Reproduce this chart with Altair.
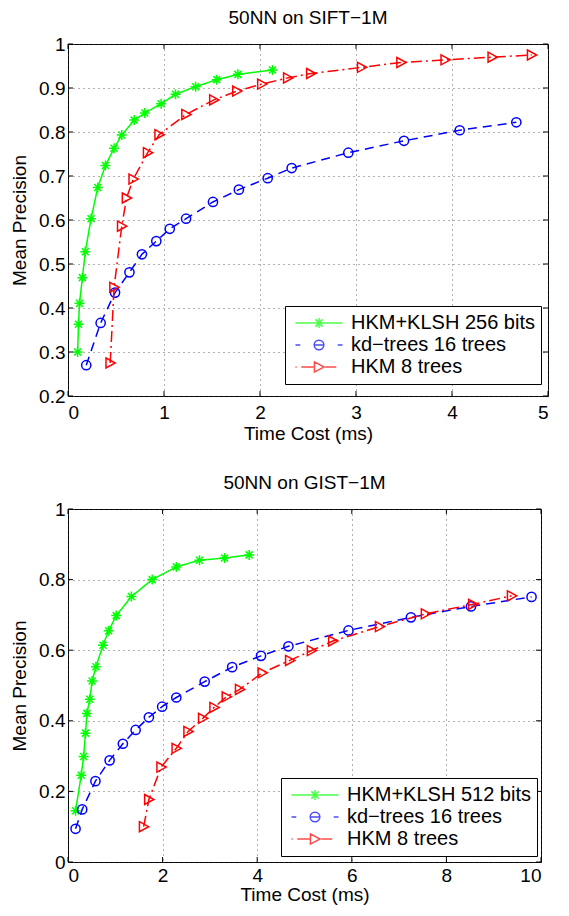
import altair as alt
import pandas as pd

FONT = "Liberation Sans"

# ---------------- data: 50NN on SIFT-1M ----------------
sift_names = ["HKM+KLSH 256 bits", "kd\u2212trees 16 trees", "HKM 8 trees"]
sift_klsh_t = [0.10, 0.11, 0.12, 0.15, 0.18, 0.24, 0.31, 0.39, 0.48, 0.56, 0.69, 0.80, 0.97, 1.12, 1.33, 1.55, 1.77, 2.13]
sift_klsh_p = [0.300, 0.363, 0.411, 0.469, 0.528, 0.603, 0.674, 0.724, 0.763, 0.793, 0.827, 0.843, 0.864, 0.886, 0.903, 0.919, 0.931, 0.941]
sift_kd_t = [0.19, 0.34, 0.49, 0.64, 0.77, 0.92, 1.06, 1.23, 1.51, 1.78, 2.08, 2.33, 2.92, 3.50, 4.08, 4.67]
sift_kd_p = [0.270, 0.366, 0.435, 0.481, 0.522, 0.552, 0.580, 0.603, 0.641, 0.669, 0.695, 0.718, 0.753, 0.780, 0.804, 0.822]
sift_hkm_t = [0.44, 0.48, 0.56, 0.61, 0.68, 0.83, 0.95, 1.23, 1.52, 1.76, 2.02, 2.29, 2.53, 3.06, 3.47, 3.93, 4.42, 4.83]
sift_hkm_p = [0.275, 0.447, 0.586, 0.650, 0.693, 0.753, 0.794, 0.840, 0.873, 0.893, 0.909, 0.923, 0.933, 0.947, 0.958, 0.964, 0.970, 0.975]
sift_xticks = [0, 1, 2, 3, 4, 5]
sift_yticks = [0.2, 0.3, 0.4, 0.5, 0.6, 0.7, 0.8, 0.9, 1.0]

# ---------------- data: 50NN on GIST-1M ----------------
gist_names = ["HKM+KLSH 512 bits", "kd\u2212trees 16 trees", "HKM 8 trees"]
gist_klsh_t = [0.16, 0.28, 0.33, 0.37, 0.40, 0.46, 0.51, 0.59, 0.74, 0.86, 1.02, 1.34, 1.78, 2.29, 2.78, 3.31, 3.83]
gist_klsh_p = [0.145, 0.246, 0.299, 0.365, 0.421, 0.461, 0.513, 0.553, 0.614, 0.655, 0.698, 0.752, 0.800, 0.836, 0.855, 0.861, 0.870]
gist_kd_t = [0.16, 0.30, 0.58, 0.88, 1.16, 1.43, 1.71, 1.99, 2.29, 2.89, 3.47, 4.08, 4.66, 5.93, 7.25, 8.52, 9.80]
gist_kd_p = [0.094, 0.149, 0.229, 0.288, 0.335, 0.374, 0.410, 0.440, 0.466, 0.511, 0.552, 0.584, 0.611, 0.656, 0.693, 0.724, 0.751]
gist_hkm_t = [1.60, 1.71, 1.97, 2.29, 2.54, 2.85, 3.09, 3.35, 3.63, 4.11, 4.69, 5.15, 5.60, 6.59, 7.56, 8.56, 9.38]
gist_hkm_p = [0.100, 0.177, 0.269, 0.322, 0.370, 0.407, 0.438, 0.468, 0.489, 0.536, 0.571, 0.599, 0.626, 0.667, 0.703, 0.730, 0.754]
gist_xticks = [0, 2, 4, 6, 8, 10]
gist_yticks = [0, 0.2, 0.4, 0.6, 0.8, 1.0]

# ---------------- styles ----------------
COLORS = ["#00ff00", "#0000ff", "#ff0000"]
DASHES = [[1, 0], [9, 6], [11, 4, 2, 4]]
MARKERS = [
    "M-1,0L1,0M0,-1L0,1M-0.7,-0.7L0.7,0.7M-0.7,0.7L0.7,-0.7",
    "circle",
    "M-0.85,-1L1,0L-0.85,1Z",
]
MARKER_SIZES = [100, 85, 100]
LEGEND_SYMBOLS = [
    "M-0.98,0L0.98,0M-0.21,0L0.21,0M0,-0.21L0,0.21M-0.15,-0.15L0.15,0.15M-0.15,0.15L0.15,-0.15",
    "M-0.98,0L-0.78,0M-0.2,0L0.2,0M0.2,0A0.2,0.2 0 1,1 -0.2,0A0.2,0.2 0 1,1 0.2,0M0.78,0L0.98,0",
    "M-0.98,0L-0.93,0M-0.74,0L-0.21,0M-0.19,-0.21L0.21,0L-0.19,0.21ZM0.26,0L0.72,0",
]

AXIS_STYLE = dict(
    labelFont=FONT, labelFontSize=19, labelColor="black",
    titleFont=FONT, titleFontSize=19, titleFontWeight="normal", titleColor="black",
    gridColor="#404040", gridDash=[1, 4], gridWidth=1, gridOpacity=0.8,
    tickSize=0, domain=False, grid=True,
)


def panel(title, names, series, xdom, ydom, xticks, yticks, w, h, lx, ly, xlp, xtp):
    xs = alt.Scale(domain=xdom, nice=False, zero=False)
    ys = alt.Scale(domain=ydom, nice=False, zero=False)
    xaxis = alt.Axis(values=xticks, format="d", title="Time Cost (ms)",
                     labelPadding=xlp, titlePadding=xtp, **AXIS_STYLE)
    yaxis = alt.Axis(values=yticks, format=".1~f", title="Mean Precision",
                     labelPadding=3, titlePadding=9, **AXIS_STYLE)

    layers = []
    for i, (tv, pv) in enumerate(series):
        df = pd.DataFrame({"t": tv, "p": pv, "i": list(range(len(tv)))})
        base = alt.Chart(df)
        layers.append(
            base.mark_line(color=COLORS[i], strokeDash=DASHES[i], strokeWidth=1.5).encode(
                x=alt.X("t:Q", scale=xs, axis=xaxis),
                y=alt.Y("p:Q", scale=ys, axis=yaxis),
                order="i:Q",
            )
        )
        layers.append(
            base.mark_point(shape=MARKERS[i], color=COLORS[i], filled=False,
                            size=MARKER_SIZES[i], strokeWidth=1.5, opacity=1).encode(
                x=alt.X("t:Q", scale=xs, axis=xaxis),
                y=alt.Y("p:Q", scale=ys, axis=yaxis),
            )
        )

    # inward ticks on all four sides
    xt = alt.Chart(pd.DataFrame({"v": xticks}))
    yt = alt.Chart(pd.DataFrame({"v": yticks}))
    layers.append(xt.mark_rule(color="black", strokeWidth=1).encode(
        x=alt.X("v:Q", scale=xs, axis=xaxis), y=alt.value(h), y2=alt.value(h - 5)))
    layers.append(xt.mark_rule(color="black", strokeWidth=1).encode(
        x=alt.X("v:Q", scale=xs, axis=xaxis), y=alt.value(0), y2=alt.value(5)))
    layers.append(yt.mark_rule(color="black", strokeWidth=1).encode(
        y=alt.Y("v:Q", scale=ys, axis=yaxis), x=alt.value(0), x2=alt.value(5)))
    layers.append(yt.mark_rule(color="black", strokeWidth=1).encode(
        y=alt.Y("v:Q", scale=ys, axis=yaxis), x=alt.value(w - 5), x2=alt.value(w)))

    # legend layer (no marks drawn, legend only)
    leg = alt.Legend(
        title=None, orient="none", legendX=lx, legendY=ly,
        strokeColor="black", fillColor="white", padding=6,
        clipHeight=22, rowPadding=0, symbolSize=2304, symbolStrokeWidth=1.5,
        symbolOffset=3, labelOffset=7, labelFontSize=20, labelFont=FONT,
        labelColor="black", labelLimit=400,
    )
    ldf = pd.DataFrame({"s": names})
    layers.append(
        alt.Chart(ldf).transform_filter("false").mark_point(filled=False, strokeWidth=1.5).encode(
            color=alt.Color("s:N", scale=alt.Scale(domain=names, range=COLORS), legend=leg),
            shape=alt.Shape("s:N", scale=alt.Scale(domain=names, range=LEGEND_SYMBOLS), legend=leg),
        )
    )

    return alt.layer(*layers).properties(
        width=w, height=h,
        title=alt.TitleParams(title, fontSize=19, font=FONT, fontWeight="normal",
                              color="black", offset=7, frame="group"),
    )


top = panel("50NN on SIFT\u22121M", sift_names,
            [(sift_klsh_t, sift_klsh_p), (sift_kd_t, sift_kd_p), (sift_hkm_t, sift_hkm_p)],
            [0, 5], [0.2, 1.0], sift_xticks, sift_yticks, 480, 352, 217, 262, 7, 2)
bottom = panel("50NN on GIST\u22121M", gist_names,
               [(gist_klsh_t, gist_klsh_p), (gist_kd_t, gist_kd_p), (gist_hkm_t, gist_hkm_p)],
               [0, 10], [0, 1.0], gist_xticks, gist_yticks, 473, 353, 213, 269, 4, 0)

chart = alt.vconcat(top, bottom, spacing=29).resolve_scale(
    color="independent", shape="independent"
).resolve_legend(
    color="independent", shape="independent"
).properties(
    padding={"left": 2, "top": 0, "right": 0, "bottom": 0},
    background="white",
).configure_view(
    stroke="black", strokeWidth=1
)

chart.save("out.html", embed_options={"renderer": "svg", "actions": False})
